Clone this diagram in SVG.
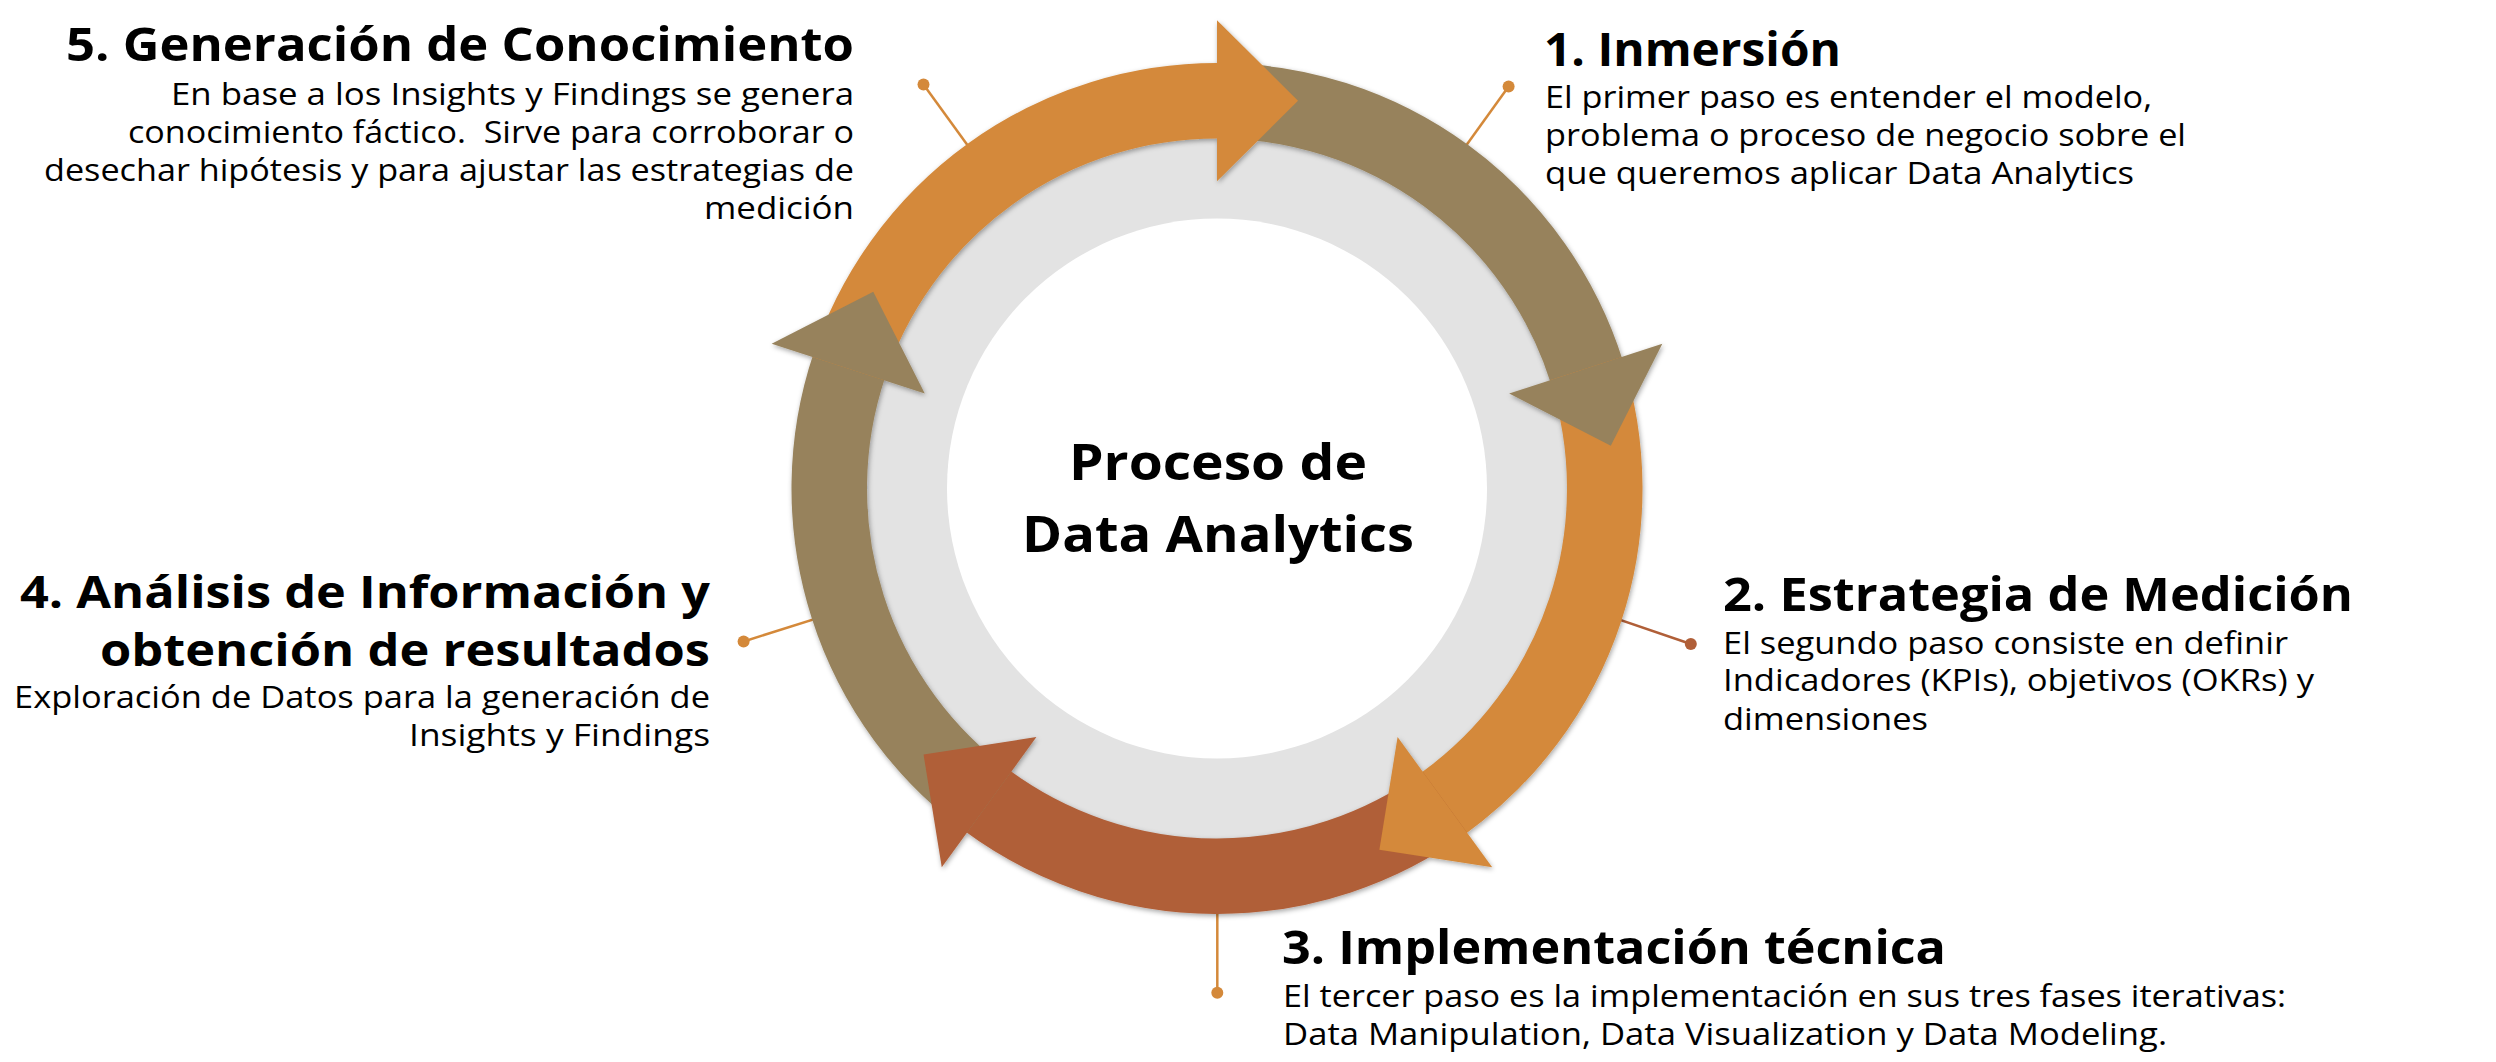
<svg xmlns="http://www.w3.org/2000/svg" width="2496" height="1062" viewBox="0 0 2496 1062">
<defs>
<style>
.t{font-family:"Open Sans","Liberation Sans",sans-serif;font-weight:700;font-size:47px;fill:#000}
.t4{font-size:45.5px}
.b{font-family:"Open Sans","Liberation Sans",sans-serif;font-weight:400;font-size:30.5px;fill:#000}
.c{font-family:"Open Sans","Liberation Sans",sans-serif;font-weight:700;font-size:51px;fill:#000}
.e{text-anchor:end}
.m{text-anchor:middle}
.sh{fill:none;stroke-width:75.5}
.so{stroke:#D4893A}.sb{stroke:#97825C}.sr{stroke:#B05F38}
.fo{fill:#D4893A}.fb{fill:#97825C}.fr{fill:#B05F38}
.ld{fill:none;stroke-width:2.5}
</style>
<filter id="ds" x="-10%" y="-10%" width="120%" height="120%">
<feDropShadow dx="1" dy="2" stdDeviation="2.5" flood-color="#000" flood-opacity="0.35"/>
</filter>
</defs>
<rect width="2496" height="1062" fill="#fff"/>

<g id="connectors">
<line class="ld" stroke="#D4893A" x1="923.5" y1="84.5" x2="981.9" y2="164.9"/>
<circle cx="923.5" cy="84.5" r="6" fill="#D4893A"/>
<line class="ld" stroke="#D4893A" x1="1508.6" y1="86.6" x2="1452.1" y2="164.9"/>
<circle cx="1508.6" cy="86.6" r="6" fill="#D4893A"/>
<line class="ld" stroke="#B05F38" x1="1690.8" y1="644" x2="1597.4" y2="612.1"/>
<circle cx="1690.8" cy="644" r="6" fill="#B05F38"/>
<line class="ld" stroke="#D4893A" x1="1217.3" y1="992.7" x2="1217.3" y2="880"/>
<circle cx="1217.3" cy="992.7" r="6" fill="#D4893A"/>
<line class="ld" stroke="#D4893A" x1="743.6" y1="641.5" x2="836.6" y2="612.1"/>
<circle cx="743.6" cy="641.5" r="6" fill="#D4893A"/>
</g>

<g id="cycle" transform="translate(1217 488.5)">
<circle r="352" fill="#E3E3E3"/>
<circle r="270" fill="#fff"/>
<g filter="url(#ds)">
<path class="sh sb" d="M0,-387.75 A387.75,387.75 0 0 1 369.80,-116.60"/>
<path class="sh so" transform="rotate(72)" d="M0,-387.75 A387.75,387.75 0 0 1 369.80,-116.60"/>
<path class="sh sr" transform="rotate(144)" d="M0,-387.75 A387.75,387.75 0 0 1 369.80,-116.60"/>
<path class="sh sb" transform="rotate(216)" d="M0,-387.75 A387.75,387.75 0 0 1 369.80,-116.60"/>
<path class="sh so" transform="rotate(288)" d="M0,-387.75 A387.75,387.75 0 0 1 369.80,-116.60"/>
<polygon class="fb" transform="rotate(72)" points="0,-468.25 81,-387.75 0,-307.25"/>
<polygon class="fo" transform="rotate(144)" points="0,-468.25 81,-387.75 0,-307.25"/>
<polygon class="fr" transform="rotate(216)" points="0,-468.25 81,-387.75 0,-307.25"/>
<polygon class="fb" transform="rotate(288)" points="0,-468.25 81,-387.75 0,-307.25"/>
<polygon class="fo" points="0,-468.25 81,-387.75 0,-307.25"/>
</g>
</g>

<g id="center">
<text class="c m" x="1218" y="480" textLength="298" lengthAdjust="spacingAndGlyphs">Proceso de</text>
<text class="c m" x="1218" y="551.7" textLength="392" lengthAdjust="spacingAndGlyphs">Data Analytics</text>
</g>

<g id="step1">
<text class="t" x="1544" y="66.2" textLength="297" lengthAdjust="spacingAndGlyphs">1. Inmersión</text>
<text class="b" x="1545" y="107.8" textLength="607" lengthAdjust="spacingAndGlyphs">El primer paso es entender el modelo,</text>
<text class="b" x="1545" y="146" textLength="641" lengthAdjust="spacingAndGlyphs">problema o proceso de negocio sobre el</text>
<text class="b" x="1545" y="184" textLength="589" lengthAdjust="spacingAndGlyphs">que queremos aplicar Data Analytics</text>
</g>

<g id="step2">
<text class="t" x="1723" y="610.6" textLength="630" lengthAdjust="spacingAndGlyphs">2. Estrategia de Medición</text>
<text class="b" x="1723" y="653.8" textLength="565" lengthAdjust="spacingAndGlyphs">El segundo paso consiste en definir</text>
<text class="b" x="1723" y="691.4" textLength="591" lengthAdjust="spacingAndGlyphs">Indicadores (KPIs), objetivos (OKRs) y</text>
<text class="b" x="1723" y="729.6" textLength="205" lengthAdjust="spacingAndGlyphs">dimensiones</text>
</g>

<g id="step3">
<text class="t" x="1282" y="964.3" textLength="664" lengthAdjust="spacingAndGlyphs">3. Implementación técnica</text>
<text class="b" x="1283" y="1007" textLength="1003" lengthAdjust="spacingAndGlyphs">El tercer paso es la implementación en sus tres fases iterativas:</text>
<text class="b" x="1283" y="1045.3" textLength="884" lengthAdjust="spacingAndGlyphs">Data Manipulation, Data Visualization y Data Modeling.</text>
</g>

<g id="step4">
<text class="t t4 e" x="710" y="608" textLength="690" lengthAdjust="spacingAndGlyphs">4. Análisis de Información y</text>
<text class="t t4 e" x="710" y="665.5" textLength="610" lengthAdjust="spacingAndGlyphs">obtención de resultados</text>
<text class="b e" x="710" y="707.8" textLength="696" lengthAdjust="spacingAndGlyphs">Exploración de Datos para la generación de</text>
<text class="b e" x="710" y="746" textLength="301" lengthAdjust="spacingAndGlyphs">Insights y Findings</text>
</g>

<g id="step5">
<text class="t e" x="854" y="60.6" textLength="788" lengthAdjust="spacingAndGlyphs">5. Generación de Conocimiento</text>
<text class="b e" x="854" y="104.5" textLength="683" lengthAdjust="spacingAndGlyphs">En base a los Insights y Findings se genera</text>
<text class="b e" x="854" y="142.5" textLength="726" lengthAdjust="spacingAndGlyphs" xml:space="preserve">conocimiento fáctico.  Sirve para corroborar o</text>
<text class="b e" x="854" y="180.5" textLength="810" lengthAdjust="spacingAndGlyphs">desechar hipótesis y para ajustar las estrategias de</text>
<text class="b e" x="854" y="218.5" textLength="150" lengthAdjust="spacingAndGlyphs">medición</text>
</g>
</svg>
